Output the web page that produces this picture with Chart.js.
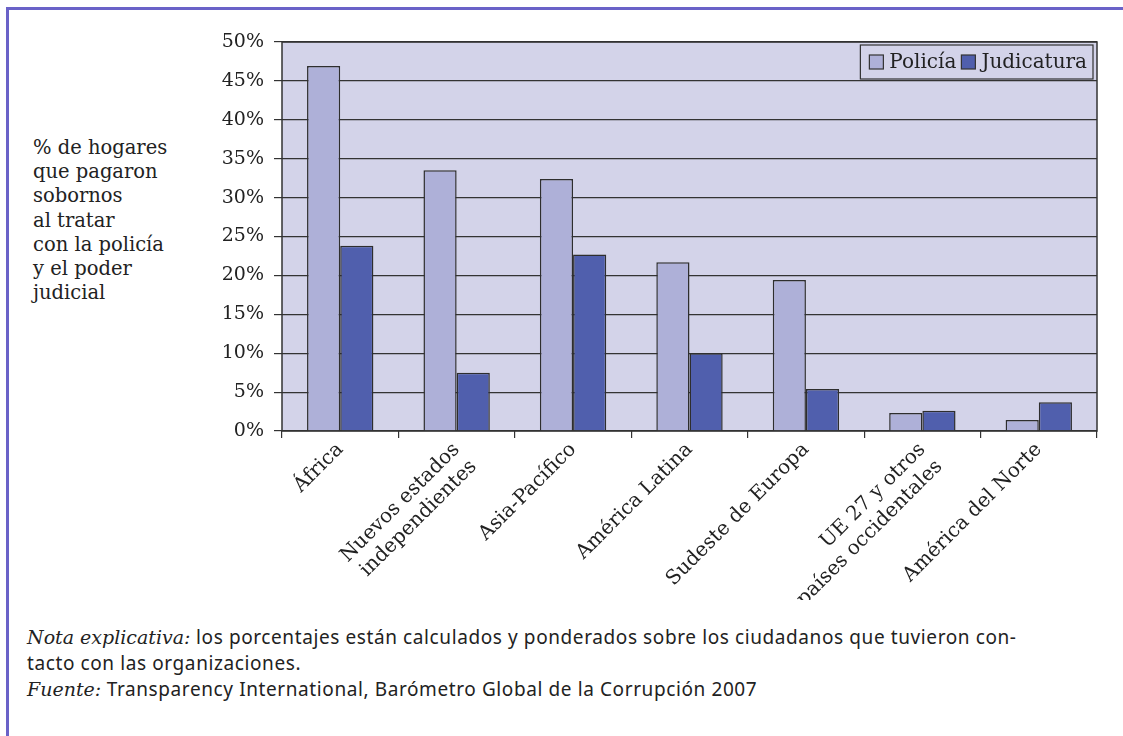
<!DOCTYPE html>
<html>
<head>
<meta charset="utf-8">
<script src="https://cdn.jsdelivr.net/npm/chart.js@4/dist/chart.umd.min.js"></script>
<style>
  body { margin: 0; background: #fff; width: 1123px; height: 736px; position: relative; overflow: hidden; }
  #frame { position: absolute; left: 6px; top: 7px; width: 1130px; height: 760px;
           border-left: 3px solid #6a62c8; border-top: 3px solid #6a62c8; }
  #wrap { position: absolute; left: 0; top: 0; width: 1123px; height: 600px; }
  #ylab { position: absolute; left: 33px; top: 136px; font-family: "DejaVu Serif", serif;
          font-size: 19.5px; line-height: 24.2px; color: #222; }
  #nota { position: absolute; left: 27px; top: 624px; font-family: "Noto Sans", sans-serif;
          font-size: 19px; letter-spacing: 0.6px; line-height: 26px; color: #222; }
  #nota i { font-family: "DejaVu Serif", serif; letter-spacing: 0; }
</style>
</head>
<body>
<div id="frame"></div>
<div id="ylab">% de hogares<br>que pagaron<br>sobornos<br>al tratar<br>con la policía<br>y el poder<br>judicial</div>
<div id="wrap"><canvas id="myChart" width="1123" height="600"></canvas></div>
<div id="nota"><i>Nota explicativa:</i> los porcentajes están calculados y ponderados sobre los ciudadanos que tuvieron con-<br>tacto con las organizaciones.<br><i>Fuente:</i> Transparency International, Barómetro Global de la Corrupción 2007</div>
<script>
// Regionen (Kategorien)
const regiones = [
    'África',
    ['Nuevos estados', 'independientes'],
    'Asia-Pacífico',
    'América Latina',
    'Sudeste de Europa',
    ['UE 27 y otros', 'países occidentales'],
    'América del Norte'
];

// Werte in Prozent
const policia = [46.9, 33.5, 32.4, 21.7, 19.4, 2.3, 1.4];
const judicatura = [23.8, 7.5, 22.7, 10.0, 5.4, 2.6, 3.7];

const serieNombres = ['Policía', 'Judicatura'];
const yTicks = [0, 5, 10, 15, 20, 25, 30, 35, 40, 45, 50];

const fuente = '"DejaVu Serif", serif';

// Hintergrund und Rahmen des Plotbereichs
const plotBg = {
    id: 'plotBg',
    beforeDraw(chart) {
        const a = chart.chartArea, c = chart.ctx;
        c.save();
        c.fillStyle = '#d3d3e9';
        c.fillRect(a.left, a.top, a.right - a.left, a.bottom - a.top);
        c.restore();
    },
    afterDatasetsDraw(chart) {
        const a = chart.chartArea, c = chart.ctx;
        c.save();
        c.strokeStyle = '#333';
        c.lineWidth = 1.5;
        c.strokeRect(a.left, a.top, a.right - a.left, a.bottom - a.top);
        c.restore();
    }
};

// Legende innerhalb des Plotbereichs oben rechts
const innenLegende = {
    id: 'innenLegende',
    afterDraw(chart) {
        const c = chart.ctx, a = chart.chartArea;
        c.save();
        c.font = '20px ' + fuente;
        c.textBaseline = 'middle';
        const box = 14, gap = 6, sep = 5, padX = 9;
        let w = padX;
        chart.data.datasets.forEach((ds, i) => {
            w += box + gap + c.measureText(ds.label).width + (i < chart.data.datasets.length - 1 ? sep : 0);
        });
        w += 6;
        const h = 34;
        const x0 = a.right - 4 - w, y0 = a.top + 3;
        c.fillStyle = '#d3d3e9';
        c.fillRect(x0, y0, w, h);
        c.strokeStyle = '#333';
        c.lineWidth = 1.2;
        c.strokeRect(x0, y0, w, h);
        let x = x0 + padX;
        const ym = y0 + h / 2;
        chart.data.datasets.forEach(ds => {
            c.fillStyle = ds.backgroundColor;
            c.fillRect(x, ym - box / 2, box, box);
            c.strokeStyle = '#333';
            c.strokeRect(x, ym - box / 2, box, box);
            x += box + gap;
            c.fillStyle = '#222';
            c.fillText(ds.label, x, ym + 1);
            x += c.measureText(ds.label).width + sep;
        });
        c.restore();
    }
};

const ctx = document.getElementById('myChart').getContext('2d');
const myChart = new Chart(ctx, {
    type: 'bar',
    data: {
        labels: regiones,
        datasets: [
            {
                label: serieNombres[0],
                data: policia,
                backgroundColor: '#aeb0d8',
                borderColor: '#2e2e2e',
                borderWidth: 1.5,
                categoryPercentage: 0.57,
                barPercentage: 1.0
            },
            {
                label: serieNombres[1],
                data: judicatura,
                backgroundColor: '#505fad',
                borderColor: '#2e2e2e',
                borderWidth: 1.5,
                categoryPercentage: 0.57,
                barPercentage: 1.0
            }
        ]
    },
    options: {
        responsive: false,
        animation: false,
        layout: { padding: { top: 42, right: 26, left: 0, bottom: 0 } },
        scales: {
            x: {
                grid: {
                    offset: true,
                    drawOnChartArea: false,
                    drawTicks: true,
                    tickLength: 7,
                    color: '#333',
                    lineWidth: 1.2
                },
                border: { display: false },
                ticks: {
                    color: '#222',
                    font: { family: fuente, size: 20 },
                    maxRotation: 45,
                    minRotation: 45,
                    autoSkip: false,
                    padding: 0
                },
                afterFit(scale) { scale.height = 600 - 431; }
            },
            y: {
                min: 0,
                max: 50,
                afterBuildTicks(scale) { scale.ticks = yTicks.map(v => ({ value: v })); },
                grid: {
                    color: '#333',
                    lineWidth: 1.2,
                    tickLength: 8
                },
                border: { display: false },
                ticks: {
                    color: '#222',
                    font: { family: fuente, size: 19 },
                    padding: 10,
                    callback: v => v + '%'
                },
                afterFit(scale) { scale.width = 282; }
            }
        },
        plugins: {
            legend: { display: false },
            tooltip: { enabled: false }
        }
    },
    plugins: [plotBg, innenLegende]
});
</script>
</body>
</html>
